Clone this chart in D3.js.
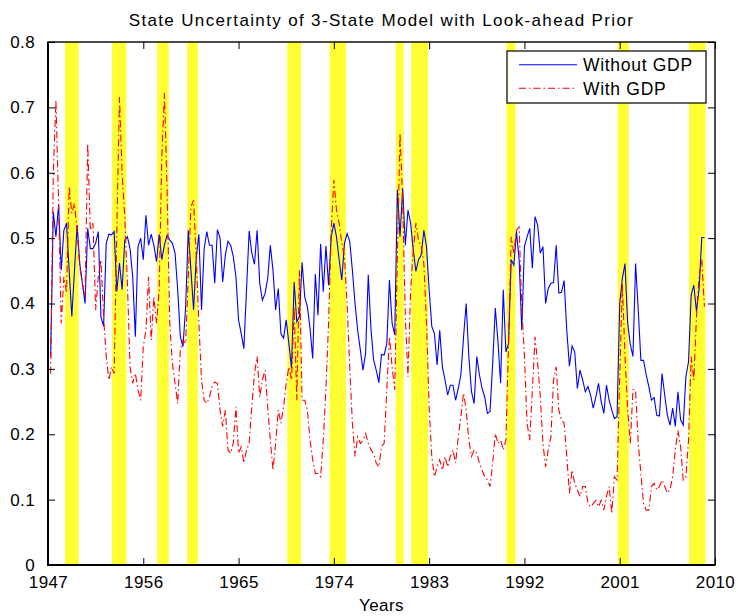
<!DOCTYPE html>
<html>
<head>
<meta charset="utf-8">
<script src="https://cdn.jsdelivr.net/npm/d3@7"></script>
<style>
  html, body { margin: 0; padding: 0; background: #fff; }
  svg { display: block; font-family: "Liberation Sans", Arial, Helvetica, sans-serif; }
</style>
</head>
<body>
<svg id="chart" width="738" height="616"></svg>
<script>
// Quarterly series, first observation 1947 Q2, one value per quarter
const firstQuarter = 1947.25;
const quarterStep = 0.25;

const withoutGDP = [
  0.319, 0.540, 0.502, 0.551, 0.451, 0.512, 0.523, 0.450, 0.380, 0.450,
  0.520, 0.461, 0.430, 0.400, 0.515, 0.484, 0.484, 0.492, 0.510, 0.380,
  0.365, 0.492, 0.506, 0.505, 0.510, 0.418, 0.462, 0.421, 0.497, 0.502,
  0.484, 0.441, 0.349, 0.487, 0.500, 0.467, 0.535, 0.489, 0.506, 0.489,
  0.464, 0.506, 0.467, 0.490, 0.504, 0.497, 0.492, 0.477, 0.421, 0.349,
  0.334, 0.395, 0.512, 0.451, 0.390, 0.470, 0.506, 0.390, 0.484, 0.510,
  0.489, 0.489, 0.431, 0.513, 0.500, 0.433, 0.474, 0.495, 0.489, 0.472,
  0.441, 0.375, 0.354, 0.331, 0.421, 0.511, 0.477, 0.460, 0.512, 0.431,
  0.405, 0.415, 0.438, 0.489, 0.451, 0.390, 0.423, 0.354, 0.347, 0.375,
  0.339, 0.301, 0.433, 0.372, 0.380, 0.463, 0.410, 0.395, 0.362, 0.316,
  0.445, 0.382, 0.491, 0.418, 0.488, 0.428, 0.502, 0.523, 0.502, 0.467,
  0.436, 0.492, 0.507, 0.495, 0.451, 0.400, 0.359, 0.329, 0.298, 0.324,
  0.444, 0.362, 0.314, 0.298, 0.279, 0.322, 0.321, 0.339, 0.436, 0.370,
  0.352, 0.574, 0.502, 0.576, 0.489, 0.543, 0.523, 0.482, 0.449, 0.467,
  0.474, 0.512, 0.487, 0.421, 0.365, 0.354, 0.306, 0.359, 0.303, 0.283,
  0.260, 0.275, 0.275, 0.252, 0.270, 0.291, 0.349, 0.400, 0.319, 0.265,
  0.247, 0.319, 0.291, 0.270, 0.257, 0.232, 0.235, 0.308, 0.393, 0.342,
  0.278, 0.421, 0.326, 0.339, 0.467, 0.459, 0.510, 0.467, 0.359, 0.487,
  0.502, 0.515, 0.454, 0.533, 0.520, 0.477, 0.487, 0.400, 0.423, 0.431,
  0.432, 0.489, 0.416, 0.417, 0.435, 0.359, 0.304, 0.335, 0.326, 0.270,
  0.298, 0.283, 0.265, 0.273, 0.260, 0.240, 0.257, 0.278, 0.250, 0.232,
  0.275, 0.252, 0.237, 0.224, 0.227, 0.400, 0.438, 0.461, 0.370, 0.337,
  0.319, 0.461, 0.390, 0.313, 0.313, 0.291, 0.273, 0.252, 0.256, 0.229,
  0.228, 0.293, 0.260, 0.229, 0.214, 0.240, 0.212, 0.265, 0.222, 0.214,
  0.288, 0.311, 0.413, 0.428, 0.388, 0.423, 0.501, 0.501
];

const withGDP = [
  0.293, 0.600, 0.711, 0.553, 0.370, 0.441, 0.416, 0.579, 0.538, 0.553,
  0.512, 0.456, 0.431, 0.410, 0.645, 0.512, 0.523, 0.390, 0.441, 0.467,
  0.380, 0.319, 0.283, 0.303, 0.293, 0.512, 0.716, 0.599, 0.533, 0.431,
  0.303, 0.278, 0.293, 0.268, 0.252, 0.334, 0.359, 0.441, 0.344, 0.410,
  0.370, 0.421, 0.625, 0.722, 0.574, 0.370, 0.308, 0.278, 0.247, 0.329,
  0.344, 0.339, 0.441, 0.548, 0.558, 0.472, 0.370, 0.283, 0.252, 0.247,
  0.257, 0.273, 0.280, 0.278, 0.237, 0.212, 0.237, 0.176, 0.171, 0.186,
  0.242, 0.171, 0.181, 0.156, 0.176, 0.186, 0.242, 0.293, 0.319, 0.257,
  0.283, 0.298, 0.242, 0.191, 0.145, 0.186, 0.237, 0.217, 0.242, 0.278,
  0.303, 0.283, 0.395, 0.252, 0.451, 0.252, 0.252, 0.237, 0.191, 0.161,
  0.140, 0.140, 0.135, 0.191, 0.268, 0.370, 0.512, 0.589, 0.543, 0.523,
  0.492, 0.472, 0.400, 0.303, 0.217, 0.166, 0.196, 0.186, 0.191, 0.201,
  0.186, 0.176, 0.171, 0.156, 0.150, 0.181, 0.186, 0.268, 0.349, 0.303,
  0.268, 0.472, 0.660, 0.558, 0.380, 0.288, 0.421, 0.482, 0.523, 0.497,
  0.487, 0.461, 0.370, 0.242, 0.166, 0.135, 0.150, 0.161, 0.145, 0.166,
  0.150, 0.166, 0.176, 0.156, 0.196, 0.227, 0.263, 0.237, 0.191, 0.166,
  0.176, 0.171, 0.156, 0.145, 0.135, 0.130, 0.120, 0.156, 0.201, 0.186,
  0.191, 0.176, 0.191, 0.339, 0.502, 0.477, 0.512, 0.517, 0.395, 0.319,
  0.217, 0.191, 0.268, 0.349, 0.308, 0.257, 0.186, 0.150, 0.176, 0.196,
  0.283, 0.303, 0.237, 0.222, 0.217, 0.166, 0.110, 0.145, 0.125, 0.115,
  0.105, 0.120, 0.120, 0.094, 0.089, 0.094, 0.099, 0.089, 0.099, 0.084,
  0.105, 0.120, 0.079, 0.135, 0.130, 0.288, 0.430, 0.319, 0.237, 0.186,
  0.268, 0.268, 0.186, 0.140, 0.094, 0.084, 0.084, 0.120, 0.125, 0.115,
  0.120, 0.130, 0.120, 0.110, 0.115, 0.135, 0.176, 0.206, 0.181, 0.130,
  0.135, 0.191, 0.319, 0.283, 0.380, 0.441, 0.467, 0.395
];

// Shaded recession periods (start year, end year)
const recessionStart = [1948.6, 1953.05, 1957.3, 1960.15, 1969.6, 1973.6, 1979.85, 1981.3, 1990.3, 2000.8, 2007.55];
const recessionEnd   = [1949.9, 1954.4, 1958.4, 1961.15, 1970.9, 1975.15, 1980.6, 1982.9, 1991.15, 2001.85, 2009.1];

const xTickLabels = ["1947", "1956", "1965", "1974", "1983", "1992", "2001", "2010"];
const yTickLabels = ["0", "0.1", "0.2", "0.3", "0.4", "0.5", "0.6", "0.7", "0.8"];
const seriesNames = ["Without GDP", "With GDP"];

const svg = d3.select("#chart");
const W = 738, H = 616;
const plot = { left: 48, right: 715, top: 42, bottom: 565 };

svg.append("rect").attr("width", W).attr("height", H).attr("fill", "#fff");

const x = d3.scaleLinear().domain([1947, 2010]).range([plot.left, plot.right]);
const y = d3.scaleLinear().domain([0, 0.8]).range([plot.bottom, plot.top]);

// recession bands
svg.append("g").selectAll("rect")
  .data(recessionStart.map((s, i) => [s, recessionEnd[i]]))
  .join("rect")
  .attr("x", d => x(d[0]))
  .attr("width", d => x(d[1]) - x(d[0]))
  .attr("y", plot.top)
  .attr("height", plot.bottom - plot.top)
  .attr("fill", "#ffff33");

const dateOf = i => firstQuarter + i * quarterStep;
const line = d3.line().x((d, i) => x(dateOf(i))).y(d => y(d));

svg.append("path")
  .datum(withoutGDP)
  .attr("d", line)
  .attr("fill", "none")
  .attr("stroke", "#0000ff")
  .attr("stroke-width", 1.1)
  .attr("stroke-linejoin", "miter");

svg.append("path")
  .datum(withGDP)
  .attr("d", line)
  .attr("fill", "none")
  .attr("stroke", "#ff0000")
  .attr("stroke-width", 1.1)
  .attr("stroke-dasharray", "7,3,1.5,3");

// axes: ticks point inward, mirrored on top and right
const tickLen = 7;
const xTicks = xTickLabels.map(Number);
const yTicks = yTickLabels.map(Number);

const axisBottom = d3.axisBottom(x).tickValues(xTicks).tickFormat((d, i) => xTickLabels[i])
  .tickSizeInner(-tickLen).tickSizeOuter(0).tickPadding(11);
const axisLeft = d3.axisLeft(y).tickValues(yTicks).tickFormat((d, i) => yTickLabels[i])
  .tickSizeInner(-tickLen).tickSizeOuter(0).tickPadding(13);
const axisTop = d3.axisTop(x).tickValues(xTicks).tickFormat("").tickSizeInner(-tickLen).tickSizeOuter(0);
const axisRight = d3.axisRight(y).tickValues(yTicks).tickFormat("").tickSizeInner(-tickLen).tickSizeOuter(0);

function styleAxis(g) {
  g.selectAll(".domain").remove();
  g.selectAll(".tick line").attr("stroke", "#000").attr("stroke-width", 1);
  g.selectAll(".tick text").attr("fill", "#000").attr("font-size", 17)
    .attr("font-family", "'Liberation Sans', Arial, sans-serif")
    .attr("letter-spacing", 0.4);
}

svg.append("g").attr("transform", `translate(0,${plot.bottom})`).call(axisBottom).call(styleAxis);
svg.append("g").attr("transform", `translate(${plot.left},0)`).call(axisLeft).call(styleAxis);
svg.append("g").attr("transform", `translate(0,${plot.top})`).call(axisTop).call(styleAxis);
svg.append("g").attr("transform", `translate(${plot.right},0)`).call(axisRight).call(styleAxis);

// axes box
svg.append("rect")
  .attr("x", plot.left).attr("y", plot.top)
  .attr("width", plot.right - plot.left).attr("height", plot.bottom - plot.top)
  .attr("fill", "none").attr("stroke", "#000").attr("stroke-width", 1.4);
svg.append("line").attr("x1", plot.left).attr("x2", plot.left)
  .attr("y1", plot.top).attr("y2", plot.bottom + 1).attr("stroke", "#000").attr("stroke-width", 2);
svg.append("line").attr("x1", plot.left).attr("x2", plot.right)
  .attr("y1", plot.bottom).attr("y2", plot.bottom).attr("stroke", "#000").attr("stroke-width", 2);

// title and axis label
svg.append("text")
  .attr("x", (plot.left + plot.right) / 2).attr("y", 26)
  .attr("text-anchor", "middle").attr("font-size", 17)
  .attr("letter-spacing", 1.35)
  .text("State Uncertainty of 3-State Model with Look-ahead Prior");

svg.append("text")
  .attr("x", (plot.left + plot.right) / 2).attr("y", 611)
  .attr("text-anchor", "middle").attr("font-size", 17)
  .attr("letter-spacing", 0.4)
  .text("Years");

// legend
const legend = svg.append("g");
legend.append("rect")
  .attr("x", 507).attr("y", 51).attr("width", 199).attr("height", 52)
  .attr("fill", "#fff").attr("stroke", "#000").attr("stroke-width", 1.2);
const legendStyles = [
  { color: "#0000ff", dash: null },
  { color: "#ff0000", dash: "7,3,1.5,3" }
];
seriesNames.forEach((name, i) => {
  const ly = 64.7 + i * 23.6;
  legend.append("line")
    .attr("x1", 519).attr("x2", 577).attr("y1", ly).attr("y2", ly)
    .attr("stroke", legendStyles[i].color).attr("stroke-width", 1.1)
    .attr("stroke-dasharray", legendStyles[i].dash);
  legend.append("text")
    .attr("x", 583).attr("y", ly + 6.3)
    .attr("font-size", 17.5)
    .attr("letter-spacing", 0.7)
    .text(name);
});
</script>
</body>
</html>
